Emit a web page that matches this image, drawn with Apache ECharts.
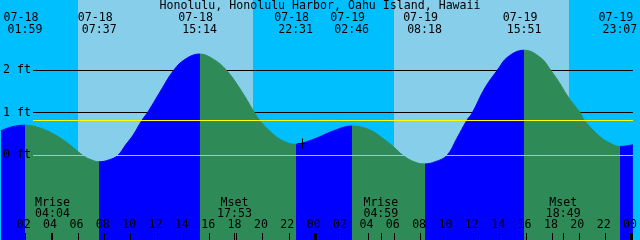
<!DOCTYPE html>
<html><head><meta charset="utf-8">
<script src="https://cdn.jsdelivr.net/npm/echarts@6/dist/echarts.min.js"></script>
<style>html,body{margin:0;padding:0;background:#fff}#c{width:640px;height:240px}</style>
</head><body><div id="c"></div>
<script>
// ---- data (hours since 07-18 00:00, heights in ft) ----
const titleText = 'Honolulu, Honolulu Harbor, Oahu Island, Hawaii';
const tideTimes = [0.165, 1.0, 1.983, 3.16, 4.16, 5.16, 6.0, 6.38, 6.9, 7.617, 8.4, 9.03, 9.65, 10.15, 10.85, 11.33, 12.15, 13.27, 14.15, 15.233,
  16.27, 17.27, 18.39, 19.27, 19.77, 20.64, 21.51, 22.517, 23.03, 24.14, 25.39, 26.767, 28.13, 29.13, 29.98, 30.67, 31.5, 32.3, 33.1, 34.0,
  34.75, 35.5, 35.92, 36.87, 37.82, 38.61, 39.85, 41.12, 41.87, 42.5, 43.24, 44.11, 44.43, 45.61, 46.36, 47.117, 48.105];
const tideHeights = [0.58, 0.67, 0.71, 0.64, 0.50, 0.30, 0.09, 0.0, -0.09, -0.15, -0.10, 0.0, 0.26, 0.46, 0.82, 1.03, 1.45, 2.0, 2.26, 2.38,
  2.26, 2.0, 1.52, 1.07, 0.83, 0.545, 0.35, 0.26, 0.29, 0.41, 0.576, 0.69, 0.60, 0.40, 0.19, 0.0, -0.15, -0.20, -0.15, 0.0,
  0.40, 0.82, 1.0, 1.58, 2.0, 2.31, 2.47, 2.29, 2.0, 1.72, 1.35, 1.0, 0.82, 0.44, 0.29, 0.21, 0.25];
const eventTimes = [1.983, 7.617, 15.233, 22.517, 26.767, 32.3, 39.85, 47.117];
const eventKinds = ['high', 'low', 'high', 'low', 'high', 'low', 'high', 'low'];
const eventDates = ['07-18', '07-18', '07-18', '07-18', '07-19', '07-19', '07-19', '07-19'];
const eventClock = ['01:59', '07:37', '15:14', '22:31', '02:46', '08:18', '15:51', '23:07'];
const sunriseTimes = [6.0, 29.98];
const sunsetTimes = [19.26, 43.23];
const moonTimes = [4.067, 17.883, 28.983, 42.817];
const moonKinds = ['Mrise', 'Mset', 'Mrise', 'Mset'];
const moonClock = ['04:04', '17:53', '04:59', '18:49'];
const gridHeights = [1, 2];
const datumHeight = 0;
const mslHeight = 0.82;
const yTickValues = [0, 1, 2];
const yTickLabels = ['0 ft', '1 ft', '2 ft'];
const xTickValues = [0, 2, 4, 6, 8, 10, 12, 14, 16, 18, 20, 22, 24, 26, 28, 30, 32, 34, 36, 38, 40, 42, 44, 46, 48];
const xTickLabels = ['00', '02', '04', '06', '08', '10', '12', '14', '16', '18', '20', '22', '00', '02', '04', '06', '08', '10', '12', '14', '16', '18', '20', '22', '00'];
const midnightTimes = [0, 24, 48];
const nowTime = 23.03;
const nowHeight = 0.29;

// ---- layout / style ----
const X_MIN = 0.165, X_MAX = 48.105;
const Y_MIN = -1.986, Y_MAX = 3.648;
const FONT_FAMILY = '"DejaVu Sans Mono", monospace';
const FONT_SIZE = 11.6;
const FONT = FONT_SIZE + 'px ' + FONT_FAMILY;
const C = {
  night: '#00BFFF', day: '#87CEEB', flood: '#0000FF', ebb: '#2E8B57',
  grid: '#000000', datum: '#87CEEB', msl: '#FFFF00', text: '#000000'
};
const LINE_START = 32;

const chart = echarts.init(document.getElementById('c'), null, { renderer: 'canvas' });

// flood/ebb pieces
const pieces = [];
pieces.push({ lt: eventTimes[0], color: eventKinds[0] === 'high' ? C.flood : C.ebb });
for (let i = 0; i < eventTimes.length; i++) {
  const p = { gte: eventTimes[i], color: eventKinds[i] === 'high' ? C.ebb : C.flood };
  if (i + 1 < eventTimes.length) p.lt = eventTimes[i + 1];
  pieces.push(p);
}

const dayBands = sunriseTimes.map((t, i) => [t, sunsetTimes[i]]);

function textEl(text, x, y) {
  return { type: 'text', style: { text: text, x: x, y: y, font: FONT, fill: C.text,
    align: 'center', verticalAlign: 'middle', textAlign: 'center', textVerticalAlign: 'middle' } };
}

function hLine(params, api, color) {
  const y = Math.floor(api.coord([X_MIN, api.value(1)])[1]) + 0.5;
  const cs = params.coordSys;
  return { type: 'line', shape: { x1: cs.x + LINE_START, y1: y, x2: cs.x + cs.width, y2: y },
    style: { stroke: color, lineWidth: 1 } };
}

const option = {
  animation: false,
  backgroundColor: C.night,
  title: {
    text: titleText, left: 'center', top: 0, padding: 0, itemGap: 0,
    textStyle: { fontFamily: FONT_FAMILY, fontSize: FONT_SIZE, fontWeight: 'normal', color: C.text, lineHeight: 12 }
  },
  grid: { left: 0, right: 0, top: 0, bottom: 0, containLabel: false },
  xAxis: [{
    type: 'value', min: X_MIN, max: X_MAX, position: 'bottom', z: 5,
    axisLine: { show: false, onZero: false }, splitLine: { show: false },
    axisTick: { show: true, inside: true, length: 7, customValues: xTickValues.concat(moonTimes), lineStyle: { color: C.text, width: 1 } },
    axisLabel: {
      show: true, inside: true, margin: 9, customValues: xTickValues, color: C.text,
      fontFamily: FONT_FAMILY, fontSize: FONT_SIZE, padding: [0, 3, 0, 0],
      formatter: v => { const i = xTickValues.indexOf(v); return i >= 0 ? xTickLabels[i] : ''; }
    }
  }, {
    type: 'value', min: X_MIN, max: X_MAX, position: 'bottom', z: 5,
    axisLine: { show: false, onZero: false }, splitLine: { show: false }, axisLabel: { show: false },
    axisTick: { show: true, inside: true, length: 7, customValues: midnightTimes, lineStyle: { color: C.text, width: 3 } }
  }],
  yAxis: {
    type: 'value', min: Y_MIN, max: Y_MAX, z: 5,
    axisLine: { show: false, onZero: false }, axisTick: { show: false }, splitLine: { show: false },
    axisLabel: {
      show: true, inside: true, margin: 2, customValues: yTickValues, color: C.text,
      fontFamily: FONT_FAMILY, fontSize: FONT_SIZE,
      formatter: v => { const i = yTickValues.indexOf(v); return i >= 0 ? yTickLabels[i] : ''; }
    }
  },
  visualMap: { type: 'piecewise', show: false, dimension: 0, seriesIndex: 2, pieces: pieces },
  series: [
    { // daytime sky
      type: 'custom', z: 0, silent: true, data: dayBands,
      renderItem: (params, api) => {
        const cs = params.coordSys;
        const x0 = Math.round(api.coord([api.value(0), 0])[0]);
        const x1 = Math.round(api.coord([api.value(1), 0])[0]);
        return { type: 'rect', shape: { x: x0, y: cs.y, width: x1 - x0, height: cs.height }, style: { fill: C.day } };
      }
    },
    { // height grid lines (behind water)
      type: 'custom', z: 1, silent: true, data: gridHeights.map(h => [X_MIN, h]),
      renderItem: (params, api) => hLine(params, api, C.grid)
    },
    { // tide
      type: 'line', z: 2, silent: true, data: tideTimes.map((t, i) => [t, tideHeights[i]]),
      symbol: 'none', showSymbol: false, smooth: 0.4,
      lineStyle: { width: 1 }, areaStyle: { origin: 'start', opacity: 1 }
    },
    { // datum line
      type: 'custom', z: 3, silent: true, data: [[X_MIN, datumHeight]],
      renderItem: (params, api) => hLine(params, api, C.datum)
    },
    { // mean sea level
      type: 'custom', z: 3, silent: true, data: [[X_MIN, mslHeight]],
      renderItem: (params, api) => hLine(params, api, C.msl)
    },
    { // now marker
      type: 'custom', z: 6, silent: true, data: [[nowTime, nowHeight]],
      renderItem: (params, api) => {
        const p = api.coord([api.value(0), api.value(1)]);
        const x = Math.round(p[0]) + 0.5, y = Math.round(p[1]) + 0.5;
        return { type: 'group', children: [
          { type: 'line', shape: { x1: x - 5, y1: y, x2: x + 5, y2: y }, style: { stroke: C.text, lineWidth: 1 } },
          { type: 'line', shape: { x1: x, y1: y - 5, x2: x, y2: y + 5 }, style: { stroke: C.text, lineWidth: 1 } }
        ] };
      }
    },
    { // tide event labels
      type: 'custom', z: 6, silent: true, data: eventTimes.map((t, i) => [t, i]),
      renderItem: (params, api) => {
        const i = api.value(1);
        const x = api.coord([api.value(0), 0])[0];
        return { type: 'group', children: [textEl(eventDates[i], x - 4, 17.5), textEl(eventClock[i], x, 29.5)] };
      }
    },
    { // moon labels
      type: 'custom', z: 6, silent: true, data: moonTimes.map((t, i) => [t, i]),
      renderItem: (params, api) => {
        const i = api.value(1);
        const x = api.coord([api.value(0), 0])[0];
        return { type: 'group', children: [textEl(moonKinds[i], x, 202.5), textEl(moonClock[i], x, 213.5)] };
      }
    }
  ]
};
chart.setOption(option);
</script>
</body></html>
